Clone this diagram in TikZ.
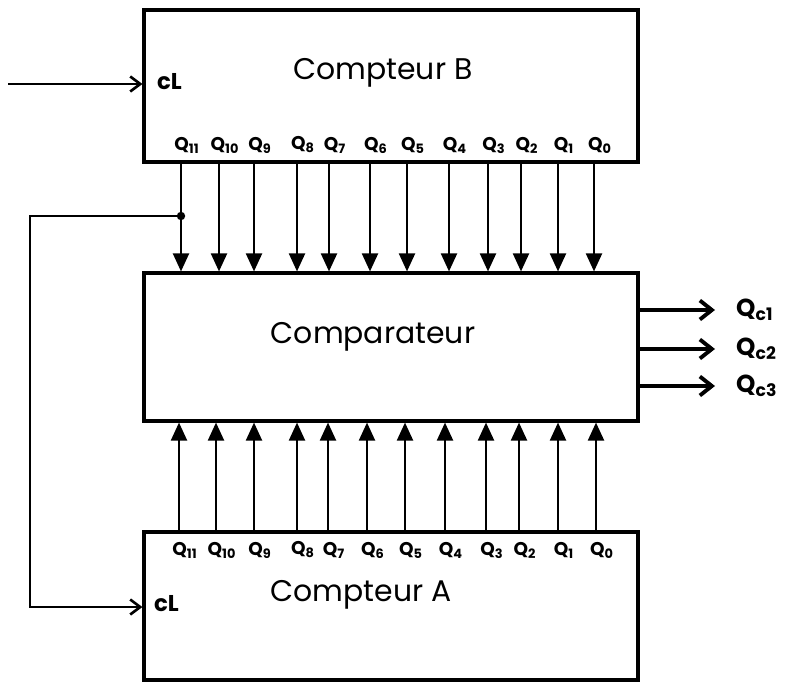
\documentclass[tikz,border=0pt]{standalone}
\usepackage{fontspec}
\setmainfont{Poppins}
\usepackage{tikz}
\usetikzlibrary{arrows.meta,positioning,calc}

\begin{document}
\begin{tikzpicture}[
      blk/.style={draw, line width=1.8pt, minimum width=9.88cm, minimum height=2.98cm, inner sep=0pt},
      ttl/.style={font=\fontsize{17}{20}\selectfont},
      bit/.style={font=\bfseries\fontsize{10.5}{13}\selectfont, inner sep=1pt},
      clk/.style={font=\bfseries\fontsize{13}{15}\selectfont, anchor=west, inner sep=1pt},
      bus/.style={line width=1.2pt, -{Triangle[width=0.32cm,length=0.36cm]}},
      wire/.style={line width=1.5pt, -{Straight Barb[width=0.3cm,length=0.2cm,line width=1.5pt]}},
      outp/.style={line width=2.2pt, shorten >=0.3cm, -{Straight Barb[width=0.38cm,length=0.24cm,line width=2.2pt]}},
      qout/.style={font=\bfseries\fontsize{14}{16}\selectfont, anchor=west}
    ]
    \useasboundingbox (0,0) rectangle (15.9,-13.8);
    \node[blk, minimum height=3.04cm] (B) at (7.82,-1.72) {};
    \node[blk, minimum height=2.96cm] (C) at (7.82,-6.94) {};
    \node[blk, minimum height=2.96cm] (A) at (7.82,-12.12) {};
    \node[ttl] (tB) at (7.66,-1.46) {Compteur B};
    \node[ttl] (tC) at (7.46,-6.74) {Comparateur};
    \node[ttl] (tA) at (7.22,-11.9) {Compteur A};
    \node[clk] (clB) at (3.1,-1.64) {cL};
    \node[clk] (clA) at (3.04,-12.08) {cL};
    \foreach \i/\xb/\xa in {11/3.62/3.58, 10/4.38/4.32, 9/5.08/5.08, 8/5.94/5.94, 7/6.58/6.56, 6/7.40/7.34,
        5/8.14/8.10, 4/8.98/8.90, 3/9.76/9.72, 2/10.42/10.38, 1/11.16/11.16, 0/11.88/11.92} {
      \coordinate (cb\i) at (\xb,-3.24);
      \coordinate (ca\i) at (\xa,-10.64);
      \node[bit] (b\i) at (\xb+0.12,-2.9) {Q\textsubscript{\i}};
      \node[bit] (a\i) at (\xa+0.12,-11.0) {Q\textsubscript{\i}};
      \draw[bus] (cb\i |- B.south) -- (cb\i |- C.north);
      \draw[bus] (ca\i |- A.north) -- (ca\i |- C.south);
    }
    \coordinate (jn) at (3.62,-4.32);
    \coordinate (fb) at (0.6,-12.14);
    \coordinate (clkin) at (0.16,-1.68);
    \fill (jn) circle (2.4pt);
    \draw[wire] (jn) -| (fb) -- (A.west |- fb);
    \draw[wire] (clkin) -- (B.west |- clkin);
    \node[qout] (qc1) at (14.6,-6.2) {Q\textsubscript{c1}};
    \node[qout] (qc2) at (14.6,-6.98) {Q\textsubscript{c2}};
    \node[qout] (qc3) at (14.6,-7.72) {Q\textsubscript{c3}};
    \draw[outp] (C.east |- qc1) -- (qc1.west);
    \draw[outp] (C.east |- qc2) -- (qc2.west);
    \draw[outp] (C.east |- qc3) -- (qc3.west);
  \end{tikzpicture}
\end{document}
